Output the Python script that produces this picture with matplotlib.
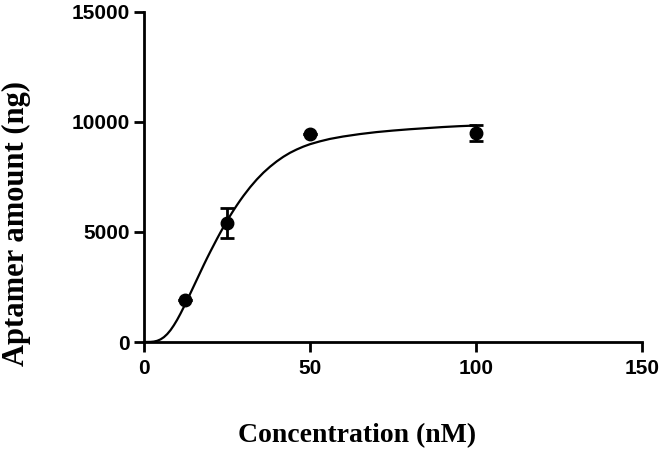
import numpy as np
import matplotlib
matplotlib.use("Agg")
import matplotlib.pyplot as plt

# measured points (mean, SD)
conc = [12.5, 25, 50, 100]
amount = [1930, 5400, 9450, 9500]
sd = [0, 690, 0, 370]

# fitted curve
fit_x = [0, 2, 3, 4, 5, 6, 7, 8, 9, 10, 11, 12, 13, 14, 15, 16, 17, 18, 19,
         20, 21, 22, 23, 24, 25, 26, 27, 28, 29, 30, 32, 34, 36, 38, 40, 42,
         44, 46, 48, 50, 53, 56, 60, 65, 70, 75, 80, 85, 90, 95, 100]
fit_y = [0, 5, 20, 55, 120, 220, 360, 540, 760, 1010, 1290, 1590, 1900,
         2220, 2540, 2860, 3180, 3500, 3810, 4110, 4400, 4690, 4970, 5240,
         5500, 5750, 5990, 6220, 6440, 6650, 7040, 7390, 7700, 7970, 8210,
         8420, 8600, 8750, 8880, 8990, 9120, 9230, 9340, 9450, 9540, 9610,
         9670, 9720, 9770, 9810, 9840]

fig = plt.figure(figsize=(6.62, 4.49), dpi=100)
ax = fig.add_axes([0.2175, 0.2383, 0.752, 0.735])

ax.plot(fit_x, fit_y, color="black", lw=1.6)
ax.errorbar(conc, amount, yerr=sd, fmt="o", color="black", ms=9,
            elinewidth=2, capsize=5, capthick=2)

ax.set_xlim(0, 150)
ax.set_ylim(0, 15000)
ax.set_xticks([0, 50, 100, 150])
ax.set_yticks([0, 5000, 10000, 15000])
for s in ["top", "right"]:
    ax.spines[s].set_visible(False)
for s in ["left", "bottom"]:
    ax.spines[s].set_linewidth(2)
ax.tick_params(direction="out", length=7, width=2)
ax.tick_params(axis="x", pad=5)
ax.tick_params(axis="y", pad=3)
for lab in ax.get_xticklabels() + ax.get_yticklabels():
    lab.set_fontfamily("Liberation Sans")
    lab.set_fontweight("bold")
    lab.set_fontsize(15)

ax.set_xlabel("Concentration (nM)", family="Liberation Serif",
              fontweight="bold", fontsize=20)
ax.set_ylabel("Aptamer amount (ng)", family="Liberation Serif",
              fontweight="bold", fontsize=22)
ax.xaxis.label.set_va("baseline")
ax.yaxis.label.set_va("center")
ax.xaxis.set_label_coords(0.429, -0.304)
ax.yaxis.set_label_coords(-0.256, 0.359)

fig.savefig("out.png", dpi=100)
